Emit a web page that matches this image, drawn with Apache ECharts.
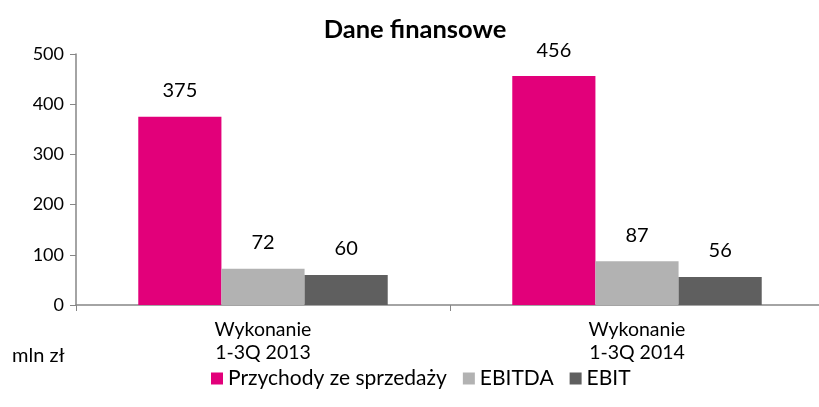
<!DOCTYPE html>
<html>
<head>
<meta charset="utf-8">
<script src="https://cdn.jsdelivr.net/npm/echarts@6/dist/echarts.min.js"></script>
<style>
  html, body { margin: 0; padding: 0; background: #fff; overflow: hidden; }
  /* wykres nieco szerszy niż okno - prawa krawędź osi jest ucięta jak w oryginale */
  #chart { width: 830px; height: 407px; }
</style>
</head>
<body>
<div id="chart"></div>
<script>
// dane z wykresu (mln zł)
var categories = ['Wykonanie\n1-3Q 2013', 'Wykonanie\n1-3Q 2014'];
var seriesNames = ['Przychody ze sprzedaży', 'EBITDA', 'EBIT'];
var przychody = [375, 456];
var ebitda = [72, 87];
var ebit = [60, 56];
var colors = ['#E2007A', '#B2B2B2', '#5F5F5F'];

var FONT = 'Lato';

function bar(name, data, color) {
  return {
    name: name,
    type: 'bar',
    data: data,
    barGap: '0%',
    barCategoryGap: '33.3%',
    itemStyle: { color: color },
    label: {
      show: true,
      position: 'top',
      distance: 16,
      color: '#000',
      fontFamily: FONT,
      fontSize: 20
    }
  };
}

var myChart = echarts.init(document.getElementById('chart'));

var option = {
  animation: false,
  textStyle: { fontFamily: FONT },
  title: {
    text: 'Dane finansowe',
    left: 410,
    textAlign: 'center',
    top: 12,
    textStyle: { fontFamily: FONT, fontSize: 25.5, fontWeight: 'bold', color: '#000' }
  },
  legend: {
    data: seriesNames,
    bottom: 13,
    left: 206,
    itemWidth: 12,
    itemHeight: 12,
    itemGap: 16,
    icon: 'rect',
    textStyle: { fontFamily: FONT, fontSize: 21, color: '#000' }
  },
  grid: {
    left: 76,
    right: 6,
    top: 54,
    bottom: 102
  },
  xAxis: {
    type: 'category',
    data: categories,
    axisLine: { lineStyle: { color: '#868686', width: 1.5 } },
    axisTick: { show: true, length: 6, alignWithLabel: false, lineStyle: { color: '#868686' } },
    axisLabel: {
      color: '#000',
      fontFamily: FONT,
      fontSize: 19.5,
      lineHeight: 23,
      margin: 13
    }
  },
  yAxis: {
    type: 'value',
    min: 0,
    max: 500,
    interval: 100,
    axisLine: { show: true, lineStyle: { color: '#868686', width: 1.5 } },
    axisTick: { show: true, length: 6, lineStyle: { color: '#868686' } },
    splitLine: { show: false },
    axisLabel: { color: '#000', fontFamily: FONT, fontSize: 18, margin: 12 }
  },
  graphic: [{
    type: 'text',
    left: 12,
    top: 346,
    style: { text: 'mln zł', fill: '#000', font: '20px ' + FONT }
  }],
  series: [
    bar(seriesNames[0], przychody, colors[0]),
    bar(seriesNames[1], ebitda, colors[1]),
    bar(seriesNames[2], ebit, colors[2])
  ]
};

myChart.setOption(option);
</script>
</body>
</html>
